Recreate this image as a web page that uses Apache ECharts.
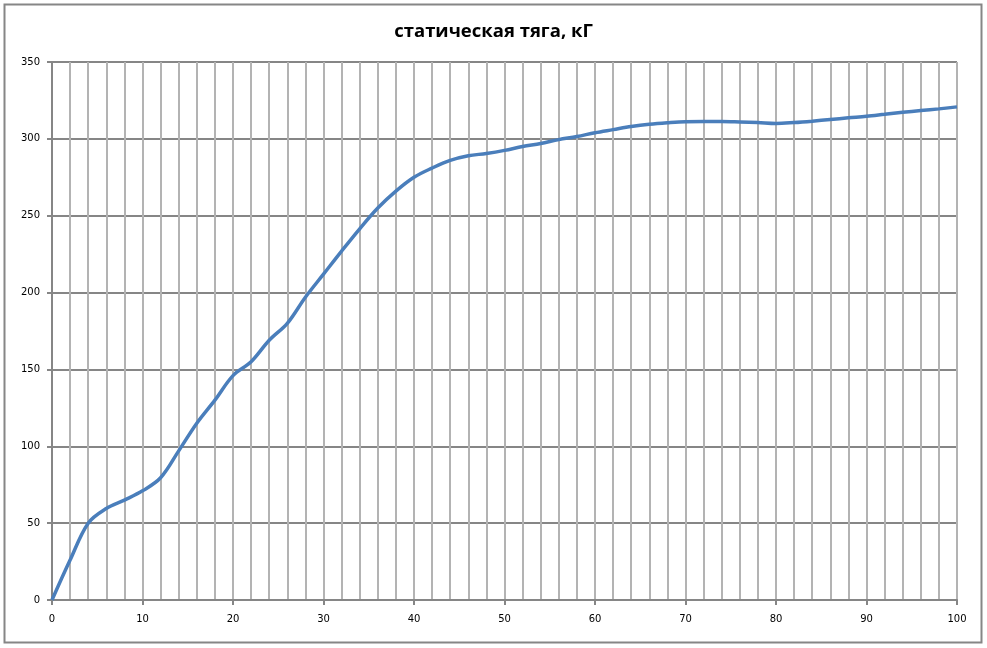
<!DOCTYPE html>
<html>
<head>
<meta charset="utf-8">
<script src="https://cdn.jsdelivr.net/npm/echarts@6/dist/echarts.min.js"></script>
<style>
html,body{margin:0;padding:0;background:#fff;}
#chart{width:987px;height:648px;}
</style>
</head>
<body>
<div id="chart"></div>
<script>
const titleText = 'статическая тяга, кГ';
const xValues = [0,2,4,6,8,10,12,14,16,18,20,22,24,26,28,30,32,34,36,38,40,42,44,46,48,50,52,54,56,58,60,62,64,66,68,70,72,74,76,78,80,82,84,86,88,90,92,94,96,98,100];
const thrust = [0,26,50,59.5,65,71,79.5,97,115,130,146,155,169,180,197,212,227,241.5,255,266,275,281,286,289,290.5,292.5,295,297,299.5,301.5,304,306,308,309.5,310.5,311.2,311.3,311.3,311,310.6,310,310.6,311.5,312.6,313.7,314.7,316,317.3,318.4,319.5,320.8];
const yTicks = [0,50,100,150,200,250,300,350];
const xTicks = [0,10,20,30,40,50,60,70,80,90,100];

const chart = echarts.init(document.getElementById('chart'), null, {renderer:'canvas'});
const seriesData = xValues.map((x,i)=>[x, thrust[i]]);
chart.setOption({
  animation:false,
  backgroundColor:'#ffffff',
  title:{
    text:titleText,
    left:'center',
    top:17,
    textStyle:{fontFamily:'Open Sans',fontWeight:'bold',fontSize:18.5,color:'#000'}
  },
  graphic:[{
    type:'rect',
    shape:{x:4.5,y:4.5,width:977,height:638},
    style:{fill:'none',stroke:'#868686',lineWidth:2},
    silent:true
  }],
  grid:{left:52,top:62,right:30,bottom:48,containLabel:false},
  xAxis:{
    type:'value',
    min:xTicks[0],max:xTicks[xTicks.length-1],interval:10,
    axisLine:{show:true,onZero:false,lineStyle:{color:'#868686',width:2}},
    axisTick:{show:true,length:5,inside:false,lineStyle:{color:'#868686',width:2}},
    axisLabel:{margin:14,fontFamily:'DejaVu Sans',fontSize:10,color:'#000'},
    splitLine:{show:true,lineStyle:{color:'#b3b3b3',width:2}},
    minorTick:{show:false,splitNumber:5},
    minorSplitLine:{show:true,lineStyle:{color:'#b3b3b3',width:2}}
  },
  yAxis:{
    type:'value',
    min:yTicks[0],max:yTicks[yTicks.length-1],interval:50,
    axisLine:{show:true,lineStyle:{color:'#868686',width:2}},
    axisTick:{show:true,length:5,lineStyle:{color:'#868686',width:2}},
    axisLabel:{margin:12,fontFamily:'DejaVu Sans',fontSize:10,color:'#000'},
    splitLine:{show:true,lineStyle:{color:'#868686',width:2}}
  },
  series:[{
    type:'line',
    data:seriesData,
    smooth:0.35,
    showSymbol:false,
    lineStyle:{color:'#4a7ebb',width:3.5},
    z:5
  }]
});
</script>
</body>
</html>
